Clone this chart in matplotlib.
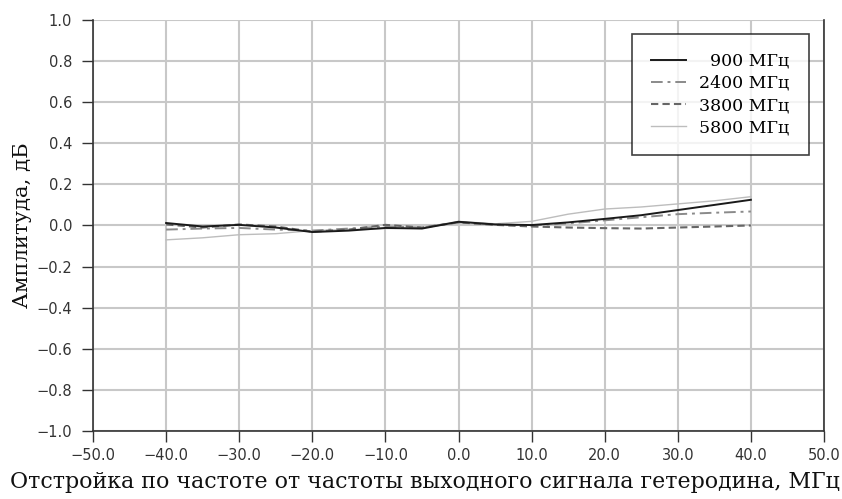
import matplotlib
matplotlib.use("Agg")
import matplotlib.pyplot as plt
import numpy as np

# Frequency offset from the local oscillator output, MHz
offset = [-40, -35, -30, -25, -20, -15, -10, -5, 0, 5, 10, 15, 20, 25, 30, 35, 40]

# Amplitude deviation, dB, per carrier frequency
amp_900 = [0.012, -0.005, 0.003, -0.010, -0.032, -0.025, -0.012, -0.015, 0.018,
           0.005, 0.002, 0.015, 0.032, 0.050, 0.075, 0.100, 0.125]
amp_2400 = [-0.020, -0.015, -0.012, -0.020, -0.025, -0.015, -0.005, -0.010, 0.015,
            0.005, 0.000, 0.010, 0.025, 0.040, 0.055, 0.062, 0.068]
amp_3800 = [0.005, -0.010, 0.005, -0.005, -0.030, -0.020, 0.003, -0.010, 0.015,
            0.003, -0.005, -0.010, -0.013, -0.015, -0.010, -0.005, 0.000]
amp_5800 = [-0.070, -0.060, -0.045, -0.040, -0.025, -0.020, -0.015, -0.012, 0.020,
            0.008, 0.020, 0.055, 0.080, 0.090, 0.105, 0.120, 0.140]

labels = ["  900 МГц", "2400 МГц", "3800 МГц", "5800 МГц"]

x_ticks = np.arange(-50, 51, 10)
y_ticks = np.arange(-1.0, 1.01, 0.2)

serif = ["DejaVu Serif"]
sans = ["DejaVu Sans"]


def fmt(v):
    s = f"{v:.1f}"
    if s == "-0.0":
        s = "0.0"
    return s.replace("-", "\u2212")


fig = plt.figure(figsize=(8.42, 4.99), dpi=100)
ax = fig.add_axes([0.1105, 0.1363, 0.8681, 0.8237])

ax.plot(offset, amp_900, color="#1a1a1a", lw=1.4, label=labels[0], zorder=5)
ax.plot(offset, amp_2400, color="#8a8a8a", lw=1.4, ls=(0, (6, 2.5, 1.5, 2.5)),
        label=labels[1], zorder=4)
ax.plot(offset, amp_3800, color="#666666", lw=1.5, ls=(0, (3.5, 2)),
        label=labels[2], zorder=4)
ax.plot(offset, amp_5800, color="#bdbdbd", lw=1.0, label=labels[3], zorder=3)

ax.set_xlim(-50, 50)
ax.set_ylim(-1.0, 1.0)
ax.set_xticks(x_ticks)
ax.set_yticks(y_ticks)
ax.set_xticklabels([fmt(v) for v in x_ticks], family=sans, fontsize=10.5)
ax.set_yticklabels([fmt(v) for v in y_ticks], family=sans, fontsize=10.5)

ax.grid(True, color="#c8c8c8", lw=1.5)
ax.set_axisbelow(True)
ax.tick_params(axis="both", direction="out", length=8, width=1.0,
               color="#333333", labelcolor="#333333")
ax.tick_params(axis="x", pad=4)
ax.tick_params(axis="y", pad=7)

ax.spines["top"].set_visible(False)
for side in ("left", "bottom", "right"):
    ax.spines[side].set_color("#333333")
    ax.spines[side].set_linewidth(1.2)

ax.set_ylabel("Амплитуда, дБ", family=serif, fontsize=15.2, labelpad=3,
              color="#111111")
ax.set_xlabel("Отстройка по частоте от частоты выходного сигнала гетеродина, МГц",
              family=serif, fontsize=15.9, color="#111111", ha="left")
# the long label starts near the left figure edge and runs to the right edge
ax.xaxis.set_label_coords(-0.114, -0.098)

leg = ax.legend(loc="upper right", bbox_to_anchor=(0.979, 0.967),
                prop={"family": serif, "size": 12.5}, frameon=True, fancybox=False,
                edgecolor="#111111", handlelength=2.0, handletextpad=0.8,
                labelspacing=0.3, borderpad=1.1, borderaxespad=0.0)
leg.get_frame().set_linewidth(1.2)

fig.savefig("out.png", dpi=100)
